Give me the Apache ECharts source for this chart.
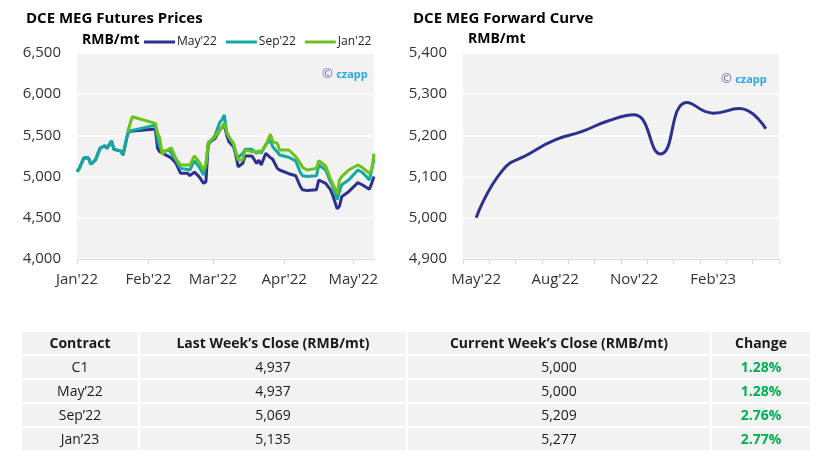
<!DOCTYPE html>
<html><head><meta charset="utf-8">
<script src="https://cdn.jsdelivr.net/npm/echarts@6/dist/echarts.min.js"></script>
<style>
html,body{margin:0;padding:0;background:#fff;}
#c{width:833px;height:469px;position:absolute;left:0;top:0;}
#t{position:absolute;left:20px;top:330px;border-collapse:collapse;table-layout:fixed;font-family:'Open Sans',sans-serif;font-size:14px;color:#1a1a1a;}
#t td,#t th{background:#f2f2f2;border:2px solid #fff;text-align:center;padding:0;line-height:20px;}
#t th{font-weight:700;height:22px;}
#t td{height:22px;}
#t td.chg{color:#00b050;font-weight:700;}
</style></head>
<body>
<div id="c"></div>
<table id="t"></table>
<script>
// ---- Futures prices (left chart) ----
const futDates = ['2022-01-01','2022-01-02','2022-01-04','2022-01-06','2022-01-07','2022-01-09','2022-01-11','2022-01-13','2022-01-14','2022-01-16','2022-01-17','2022-01-20','2022-01-21','2022-01-23','2022-01-24','2022-01-25',
'2022-02-04','2022-02-05','2022-02-06','2022-02-07','2022-02-08','2022-02-10','2022-02-11','2022-02-13','2022-02-15','2022-02-18','2022-02-19','2022-02-21','2022-02-23','2022-02-25','2022-02-26','2022-02-27',
'2022-03-02','2022-03-04','2022-03-05','2022-03-06','2022-03-07','2022-03-08','2022-03-10','2022-03-11','2022-03-12','2022-03-14','2022-03-15','2022-03-18','2022-03-20','2022-03-21','2022-03-22','2022-03-24','2022-03-26','2022-03-27','2022-03-29','2022-03-30',
'2022-04-03','2022-04-06','2022-04-08','2022-04-09','2022-04-11','2022-04-15','2022-04-16','2022-04-19','2022-04-21','2022-04-22','2022-04-24','2022-04-25','2022-04-26','2022-04-29',
'2022-05-03','2022-05-05','2022-05-08','2022-05-09','2022-05-10'];
const may22 = [5060,5100,5229,5225,5150,5200,5343,5375,5343,5432,5330,5311,5262,5520,5550,null,
5578,5343,5300,5290,5270,5242,5222,5161,5040,5040,5011,5055,4999,4918,4938,5404,
5465,5566,5600,5620,5505,5424,5363,5260,5120,5161,5250,5250,5161,5201,5141,5283,5230,5210,5100,5080,
5035,5010,4880,4840,4830,4840,4959,4918,4845,4780,4610,4640,4757,4817,
4926,4898,4846,4918,5000];
const sep22 = [5060,5100,5229,5225,5150,5200,5343,5375,5343,5432,5330,5311,5262,5520,5553,null,
5625,5450,5360,5303,5310,5323,5283,5201,5100,5085,5080,5190,5120,5019,5150,5383,
5505,5660,5690,5748,5526,5480,5390,5280,5235,5280,5331,5331,5283,5314,5283,5390,5444,5363,5300,5262,
5235,5190,5050,5010,5000,5010,5140,5080,4940,4890,4720,4820,4900,4959,
5080,5050,4960,5080,5209];
const jan22 = [null,null,null,null,null,null,null,null,null,null,null,null,null,5545,null,5727,
5646,5530,5460,5270,5300,5335,5350,5215,5141,5141,5141,5250,5180,5080,5150,5416,
5484,5566,5600,5650,5545,5480,5404,5300,5201,5201,5323,5303,5303,5290,5303,5383,5517,5424,5404,5323,
5323,5242,5161,5110,5080,5100,5193,5129,4980,4918,4790,4960,5000,5080,
5141,5110,5040,5090,5277];
const futAxisStart = '2022-01-01';
const futAxisEnd = '2022-05-10';
const futSeriesNames = ["May'22","Sep'22","Jan'22"];

// ---- Forward curve (right chart) ----
const fwdMonths = ["May'22","Jun'22","Jul'22","Aug'22","Sep'22","Oct'22","Nov'22","Dec'22","Jan'23","Feb'23","Mar'23","Apr'23"];
const fwdCurve = [5000,5115,5155,5189,5209,5235,5250,5155,5280,5254,5265,5216];

// ---- Table ----
const tblHeaders = ['Contract','Last Week\u2019s Close (RMB/mt)','Current Week\u2019s Close (RMB/mt)','Change'];
const contracts = ['C1','May\u201922','Sep\u201922','Jan\u201923'];
const lastClose = [4937,4937,5069,5135];
const currClose = [5000,5000,5209,5277];
const changePct = [1.28,1.28,2.76,2.77];

const NAVY='#2e2f8e', TEAL='#12aaa0', GREEN='#6cc11a';
const FONT="'Open Sans', sans-serif";
const MON=['Jan','Feb','Mar','Apr','May','Jun','Jul','Aug','Sep','Oct','Nov','Dec'];

// build daily category list
function fmtD(d){return d.toISOString().slice(0,10);}
const days=[];
for(let d=new Date(futAxisStart+'T00:00:00Z'); fmtD(d)<=futAxisEnd; d.setUTCDate(d.getUTCDate()+1)) days.push(fmtD(d));
function toDaily(vals){
  const m={}; futDates.forEach((d,i)=>{m[d]=vals[i];});
  return days.map(d=> (d in m && m[d]!=null) ? m[d] : null);
}
const isMonthStart=(i,v)=>v.slice(8)==='01';
const comma=v=>v.toLocaleString('en-US');

const chart=echarts.init(document.getElementById('c'),null,{renderer:'canvas'});
chart.setOption({
  animation:false,
  textStyle:{fontFamily:FONT},
  title:[
    {text:'DCE MEG Futures Prices',left:21,top:6,textStyle:{fontFamily:FONT,fontSize:15,fontWeight:'bold',color:'#000'}},
    {text:'DCE MEG Forward Curve',left:408,top:6,textStyle:{fontFamily:FONT,fontSize:15,fontWeight:'bold',color:'#000'}}
  ],
  legend:{
    data:futSeriesNames,left:139,top:31,icon:'rect',itemWidth:31,itemHeight:3,itemGap:9,
    textStyle:{fontFamily:FONT,fontSize:12,color:'#222',padding:[0,0,0,-3]}
  },
  graphic:[
    {type:'text',left:82,top:33,style:{text:'RMB/mt',font:"bold 14px 'Open Sans'",fill:'#000'}},
    {type:'text',left:468,top:32,style:{text:'RMB/mt',font:"bold 14px 'Open Sans'",fill:'#000'}},
    {type:'text',left:322,top:68,style:{text:'{a|\u00a9} {b|czapp}',rich:{a:{fill:'#6d62b8',font:"13px 'Open Sans'"},b:{fill:'#2ba6e0',font:"bold 11px 'Open Sans'"}}}},
    {type:'text',left:721,top:73,style:{text:'{a|\u00a9} {b|czapp}',rich:{a:{fill:'#6d62b8',font:"13px 'Open Sans'"},b:{fill:'#2ba6e0',font:"bold 11px 'Open Sans'"}}}}
  ],
  grid:[
    {left:77,right:459,top:53,bottom:210,show:true,backgroundColor:'#f2f2f2',borderWidth:0},
    {left:463,right:54,top:53,bottom:210,show:true,backgroundColor:'#f2f2f2',borderWidth:0}
  ],
  xAxis:[
    {type:'category',gridIndex:0,data:days,boundaryGap:false,
     axisLine:{lineStyle:{color:'#d9d9d9',width:1}},
     axisTick:{show:true,interval:isMonthStart,length:5,lineStyle:{color:'#d9d9d9'}},
     axisLabel:{interval:isMonthStart,margin:13,fontSize:15,color:'#333',fontFamily:FONT,
       formatter:v=>MON[+v.slice(5,7)-1]+"'"+v.slice(2,4)},
     splitLine:{show:false}},
    {type:'category',gridIndex:1,data:fwdMonths,boundaryGap:true,
     axisLine:{lineStyle:{color:'#d9d9d9',width:1}},
     axisTick:{show:true,interval:0,alignWithLabel:false,length:5,lineStyle:{color:'#d9d9d9'}},
     axisLabel:{interval:2,margin:13,fontSize:15,color:'#333',fontFamily:FONT},
     splitLine:{show:false}}
  ],
  yAxis:[
    {type:'value',gridIndex:0,min:4000,max:6500,interval:500,
     axisLine:{show:false},axisTick:{show:false},
     axisLabel:{margin:16,fontSize:15,color:'#333',fontFamily:FONT,formatter:comma},
     splitLine:{lineStyle:{color:'#ffffff',width:1.5}}},
    {type:'value',gridIndex:1,min:4900,max:5400,interval:100,
     axisLine:{show:false},axisTick:{show:false},
     axisLabel:{margin:16,fontSize:15,color:'#333',fontFamily:FONT,formatter:comma},
     splitLine:{lineStyle:{color:'#ffffff',width:1.5}}}
  ],
  series:[
    {name:futSeriesNames[0],type:'line',xAxisIndex:0,yAxisIndex:0,data:toDaily(may22),connectNulls:true,showSymbol:false,symbol:'none',color:NAVY,lineStyle:{width:3,color:NAVY}},
    {name:futSeriesNames[1],type:'line',xAxisIndex:0,yAxisIndex:0,data:toDaily(sep22),connectNulls:true,showSymbol:false,symbol:'none',color:TEAL,lineStyle:{width:3,color:TEAL}},
    {name:futSeriesNames[2],type:'line',xAxisIndex:0,yAxisIndex:0,data:toDaily(jan22),connectNulls:true,showSymbol:false,symbol:'none',color:GREEN,lineStyle:{width:3,color:GREEN}},
    {name:'Forward',type:'line',xAxisIndex:1,yAxisIndex:1,data:fwdCurve,smooth:0.5,showSymbol:false,symbol:'none',color:NAVY,lineStyle:{width:3,color:NAVY}}
  ]
});

// table
const tbl=document.getElementById('t');
const colW=[118,268,304,100];
let html='<colgroup>'+colW.map(w=>'<col style="width:'+w+'px">').join('')+'</colgroup>';
html+='<tr>'+tblHeaders.map(h=>'<th>'+h+'</th>').join('')+'</tr>';
contracts.forEach((c,i)=>{
  html+='<tr><td>'+c+'</td><td>'+comma(lastClose[i])+'</td><td>'+comma(currClose[i])+'</td><td class="chg">'+changePct[i].toFixed(2)+'%</td></tr>';
});
tbl.innerHTML=html;
tbl.style.width=colW.reduce((a,b)=>a+b,0)+'px';
</script>
</body></html>
